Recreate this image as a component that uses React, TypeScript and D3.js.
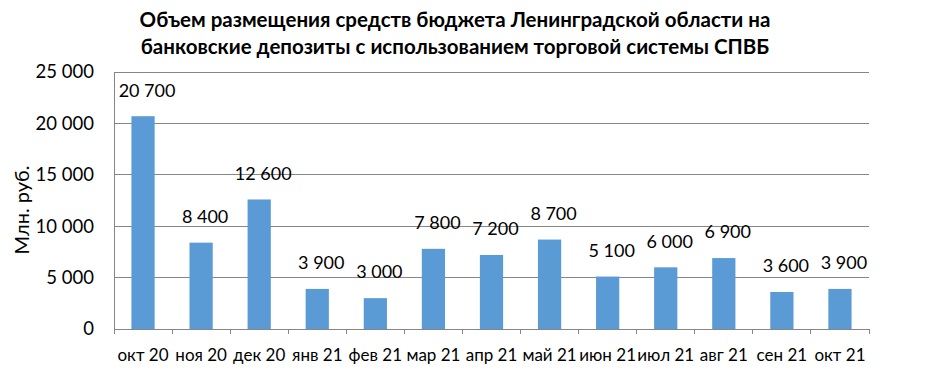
import { useEffect, useRef } from "react";
import * as d3 from "d3";

const months = ["окт 20", "ноя 20", "дек 20", "янв 21", "фев 21", "мар 21", "апр 21", "май 21", "июн 21", "июл 21", "авг 21", "сен 21", "окт 21"];
const volumes = [20700, 8400, 12600, 3900, 3000, 7800, 7200, 8700, 5100, 6000, 6900, 3600, 3900];
const yTicks = [0, 5000, 10000, 15000, 20000, 25000];
const titleLines = ["Объем размещения средств бюджета Ленинградской области на", "банковские депозиты с использованием торговой системы СПВБ"];
const yTitle = "Млн. руб.";

export default function App() {
  const ref = useRef<SVGSVGElement>(null);

  useEffect(() => {
    const el = ref.current;
    if (!el) return;
    const W = 930, H = 373;
    const M = { top: 72, right: 61, bottom: 44, left: 114 };
    const font = "Lato, 'Open Sans', sans-serif";
    const svg = d3.select(el).attr("width", W).attr("height", H);
    svg.selectAll("*").remove();

    const fmt = d3.formatLocale({ decimal: ",", thousands: " ", grouping: [3], currency: ["", ""] }).format(",");
    const x = d3.scaleBand<string>().domain(months).range([M.left, W - M.right]).paddingInner(0.6).paddingOuter(0.3);
    const y = d3.scaleLinear().domain([0, 25000]).range([H - M.bottom, M.top]);
    const step = x.step();

    // gridlines
    svg.append("g").selectAll("line").data(yTicks.filter((t) => t > 0)).join("line")
      .attr("x1", M.left).attr("x2", W - M.right).attr("y1", (d) => y(d)).attr("y2", (d) => y(d))
      .attr("stroke", "#868686").attr("stroke-width", 1).attr("shape-rendering", "crispEdges");

    // bars
    svg.append("g").selectAll("rect").data(volumes).join("rect")
      .attr("x", (_, i) => x(months[i]) ?? 0).attr("width", x.bandwidth())
      .attr("y", (d) => y(d)).attr("height", (d) => y(0) - y(d))
      .attr("fill", "#5B9BD5");

    // axes lines
    const ax = svg.append("g").attr("stroke", "#868686").attr("shape-rendering", "crispEdges");
    ax.append("line").attr("x1", M.left).attr("x2", M.left).attr("y1", y(25000)).attr("y2", y(0));
    ax.append("line").attr("x1", M.left).attr("x2", W - M.right).attr("y1", y(0)).attr("y2", y(0));
    ax.selectAll("line.tick").data(d3.range(months.length + 1)).join("line")
      .attr("x1", (i) => M.left + i * step).attr("x2", (i) => M.left + i * step)
      .attr("y1", y(0)).attr("y2", y(0) + 5);

    // y tick labels
    svg.append("g").selectAll("text").data(yTicks).join("text")
      .attr("x", 94).attr("y", (d) => y(d)).attr("dy", "0.35em").attr("text-anchor", "end")
      .attr("font-family", font).attr("font-size", 18.5).attr("fill", "#000").text((d) => fmt(d));

    // x labels
    svg.append("g").selectAll("text").data(months).join("text")
      .attr("x", (d) => (x(d) ?? 0) + x.bandwidth() / 2).attr("y", 361).attr("text-anchor", "middle")
      .attr("font-family", font).attr("font-size", 17).attr("fill", "#000").text((d) => d);

    // value labels
    svg.append("g").selectAll("text").data(volumes).join("text")
      .attr("x", (_, i) => (x(months[i]) ?? 0) + x.bandwidth() / 2 + 4).attr("y", (d) => y(d) - 26)
      .attr("dy", "0.35em").attr("text-anchor", "middle")
      .attr("font-family", font).attr("font-size", 18).attr("fill", "#000").text((d) => fmt(d));

    // y axis title
    svg.append("text").attr("transform", "translate(29,210) rotate(-90)").attr("text-anchor", "middle")
      .attr("font-family", font).attr("font-size", 20).attr("fill", "#000").text(yTitle);

    // title
    svg.append("g").selectAll("text").data(titleLines).join("text")
      .attr("x", 455).attr("y", (_, i) => 27 + i * 27).attr("text-anchor", "middle")
      .attr("font-family", font).attr("font-weight", "bold").attr("font-size", 20.5).attr("fill", "#000")
      .text((d) => d);
  }, []);

  return <svg ref={ref} style={{ position: "absolute", left: 0, top: 0 }} role="img" aria-label="Объем размещения средств" />;
}
